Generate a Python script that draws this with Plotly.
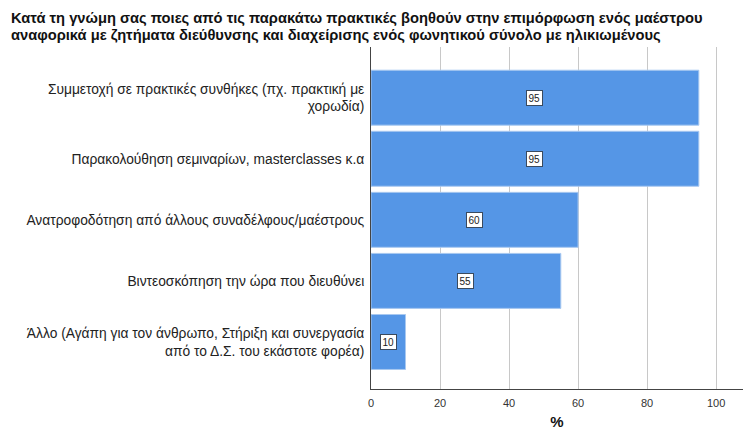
import plotly.graph_objects as go

categories = [
    "Συμμετοχή σε πρακτικές συνθήκες (πχ. πρακτική με<br>χορωδία)",
    "Παρακολούθηση σεμιναρίων, masterclasses κ.α",
    "Ανατροφοδότηση από άλλους συναδέλφους/μαέστρους",
    "Βιντεοσκόπηση την ώρα που διευθύνει",
    "Άλλο (Αγάπη για τον άνθρωπο, Στήριξη και συνεργασία<br>από το Δ.Σ. του εκάστοτε φορέα)",
]
values = [95, 95, 60, 55, 10]
x_ticks = [0, 20, 40, 60, 80, 100]
title_lines = [
    "Κατά τη γνώμη σας ποιες από τις παρακάτω πρακτικές βοηθούν στην επιμόρφωση ενός μαέστρου",
    "αναφορικά με ζητήματα διεύθυνσης και διαχείρισης ενός φωνητικού σύνολο με ηλικιωμένους",
]

FONT = "Liberation Sans, Arial, sans-serif"
W, H = 743, 430
ML, MT = 371, 47

fig = go.Figure()
fig.add_trace(go.Bar(
    x=values, y=categories, orientation="h",
    marker=dict(color="#5596e6", line=dict(color="#a8c8f0", width=1)),
    width=0.9, hoverinfo="x+y",
))

for c, v in zip(categories, values):
    fig.add_annotation(
        x=v / 2, y=c, xref="x", yref="y", text=str(v), showarrow=False,
        font=dict(family=FONT, size=10, color="#222222"),
        bgcolor="white", bordercolor="#3a4a5e", borderwidth=1, borderpad=1.5,
    )

# title as two text lines (tight line spacing like the original)
for i, line in enumerate(title_lines):
    fig.add_annotation(
        text="<b>" + line + "</b>", showarrow=False,
        xref="paper", yref="paper", x=(9 - ML) / (W - ML), y=1,
        xanchor="left", yanchor="middle", yshift=29 - 16.5 * i,
        font=dict(family=FONT, size=14.7, color="#111111"),
    )

fig.update_layout(
    width=W, height=H,
    margin=dict(l=ML, r=0, t=MT, b=41, autoexpand=False),
    paper_bgcolor="white", plot_bgcolor="white",
    font=dict(family=FONT, color="#222222"),
    showlegend=False,
    bargap=0.1,
)
fig.update_xaxes(
    range=[0, 107.8], tickvals=x_ticks, ticktext=[str(t) for t in x_ticks],
    automargin=False,
    showgrid=True, gridcolor="#c8c8c8", gridwidth=1,
    showline=True, linecolor="#444444", linewidth=1, mirror=False,
    zeroline=False, ticks="", ticklabelstandoff=4,
    tickfont=dict(family=FONT, size=11, color="#333333"),
    title=dict(text="<b>%</b>", font=dict(family=FONT, size=15, color="#111111"), standoff=12),
)
fig.update_yaxes(
    type="category", categoryorder="array", categoryarray=categories,
    range=[4.77, -0.83], automargin=False,
    showgrid=False, showline=True, linecolor="#444444", linewidth=1,
    ticks="", ticklabelstandoff=3,
    tickfont=dict(family=FONT, size=13.8, color="#222222"),
)

fig.write_html(
    "out.html",
    config={"displayModeBar": False},
    post_script="document.body.style.margin='0';document.body.style.padding='0';"
                "document.body.style.overflow='hidden';",
)
